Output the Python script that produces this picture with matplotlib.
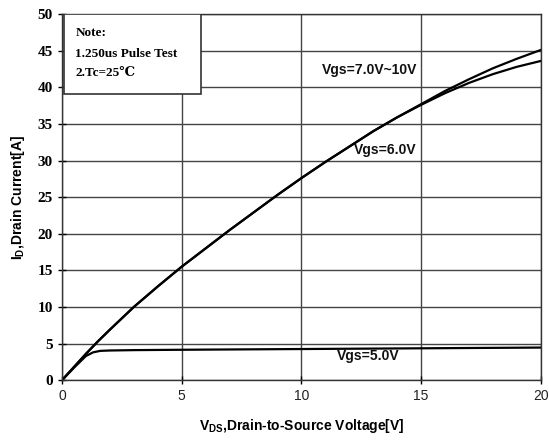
import numpy as np
import matplotlib
matplotlib.use('Agg')
import matplotlib.pyplot as plt
from matplotlib.patches import Rectangle

# curve data
vds_hi = [0, 0.5, 1, 1.5, 2, 3, 4, 5, 6, 7, 8, 9, 10, 11, 12, 13, 14, 15, 16, 17, 18, 19, 20]
id_vgs10 = [0, 1.8, 3.6, 5.3, 6.9, 10.0, 12.8, 15.5, 18.0, 20.5, 22.9, 25.3, 27.6,
            29.8, 31.9, 34.0, 35.9, 37.7, 39.5, 41.1, 42.6, 43.9, 45.1]
id_vgs6 = [0, 1.8, 3.6, 5.3, 6.9, 10.0, 12.8, 15.5, 18.0, 20.5, 22.9, 25.3, 27.6,
           29.8, 31.9, 34.0, 35.9, 37.6, 39.2, 40.6, 41.8, 42.8, 43.6]
vds_5 = [0, 0.5, 1, 1.3, 1.6, 2, 3, 5, 10, 15, 20]
id_vgs5 = [0, 1.7, 3.3, 3.8, 4.0, 4.05, 4.1, 4.15, 4.25, 4.35, 4.45]

xticks = [0, 5, 10, 15, 20]
yticks = [0, 5, 10, 15, 20, 25, 30, 35, 40, 45, 50]

fig = plt.figure(figsize=(5.49, 4.41), dpi=100)
ax = fig.add_axes([0.113, 0.138, 0.872, 0.830])

ax.plot(vds_hi, id_vgs10, color='black', lw=1.6)
ax.plot(vds_hi, id_vgs6, color='black', lw=1.6)
ax.plot(vds_5, id_vgs5, color='black', lw=1.6)

ax.set_xlim(0, 20)
ax.set_ylim(0, 50)
ax.set_xticks(xticks)
ax.set_yticks(yticks)
ax.grid(True, color='#444444', lw=1.0)
ax.set_axisbelow(True)
ax.tick_params(direction='inout', length=6, width=1, colors='black')
for s in ax.spines.values():
    s.set_color('#333333')
    s.set_linewidth(1.0)

for lbl in ax.get_xticklabels():
    lbl.set_fontfamily('Liberation Sans')
    lbl.set_fontsize(10)
    lbl.set_color('#222222')
for lbl in ax.get_yticklabels():
    lbl.set_fontfamily('Liberation Serif')
    lbl.set_fontweight('bold')
    lbl.set_fontsize(11)

ax.set_xlabel(r'V$_{\mathregular{DS}}$,Drain-to-Source Voltage[V]',
              fontfamily='Liberation Sans', fontweight='bold', fontsize=10, labelpad=10)
ax.set_ylabel(r'I$_{\mathregular{D}}$,Drain Current[A]',
              fontfamily='Liberation Sans', fontweight='bold', fontsize=10, labelpad=8)

lab = dict(fontfamily='Liberation Sans', fontweight='bold', fontsize=10,
           ha='center', va='center', color='#111111')
ax.text(12.86, 42.3, 'Vgs=7.0V~10V', **lab)
ax.text(13.5, 31.4, 'Vgs=6.0V', **lab)
ax.text(12.8, 3.3, 'Vgs=5.0V', **lab)

# note box
ax.add_patch(Rectangle((0.004, 0.781), 0.286, 0.219, transform=ax.transAxes,
                       facecolor='white', edgecolor='#333333', lw=1.2, zorder=5))
note = dict(family=['Liberation Serif', 'DejaVu Serif'], fontweight='bold', fontsize=9.5,
            transform=ax.transAxes, ha='left', va='center', zorder=6)
ax.text(0.028, 0.948, 'Note:', **note)
ax.text(0.028, 0.890, '1.250us Pulse Test', **note)
ax.text(0.028, 0.840, '2.Tc=25\u2103', **note)

fig.savefig('out.png', dpi=100)
